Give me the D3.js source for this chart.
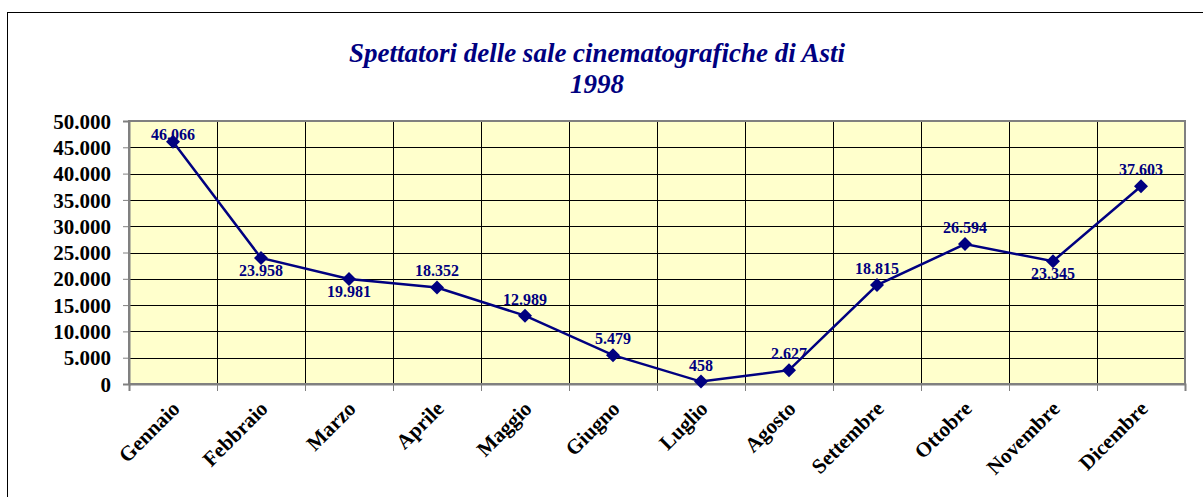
<!DOCTYPE html>
<meta charset="utf-8">
<script src="https://d3js.org/d3.v7.min.js"></script>
<style>
body { margin: 0; background: #fff; }
.grid line { stroke: #000; stroke-width: 1; }
.axis text { font-family: "Liberation Serif", "Times New Roman", serif; font-weight: bold; fill: #000; }
.axis path, .axis line { stroke: #808080; }
.line { fill: none; stroke: #000080; stroke-width: 2.5; }
.dot { fill: #000080; }
.lbl { font-family: "Liberation Serif", serif; font-weight: bold; font-size: 16px; fill: #000080; text-anchor: middle; }
.title { font-family: "Liberation Serif", serif; font-style: italic; font-weight: bold; font-size: 27px; fill: #000080; text-anchor: middle; }
</style>
<body>
</body>
<script>
var mesi = ["Gennaio","Febbraio","Marzo","Aprile","Maggio","Giugno","Luglio","Agosto","Settembre","Ottobre","Novembre","Dicembre"];
var spettatori = [46066, 23958, 19981, 18352, 12989, 5479, 458, 2627, 18815, 26594, 23345, 37603];
var labelPos = ["above","below","below","above","above","above","above","above","above","above","below","above"];
var yTicks = [0,5000,10000,15000,20000,25000,30000,35000,40000,45000,50000];

var W = 1203, H = 497;
var margin = {top: 121, left: 129, right: 18, bottom: 113};
var width = W - margin.left - margin.right,
    height = H - margin.top - margin.bottom;

var fmt = function(v){ return d3.format(",")(v).replace(/,/g, "."); };

var svg = d3.select("body").append("svg")
    .attr("width", W)
    .attr("height", H);

// outer chart border
svg.append("rect")
    .attr("x", 7.5).attr("y", 12.5)
    .attr("width", W + 10).attr("height", H + 10)
    .attr("fill", "#fff").attr("stroke", "#000").attr("stroke-width", 1);

svg.append("text").attr("class", "title")
    .attr("x", 597).attr("y", 62)
    .text("Spettatori delle sale cinematografiche di Asti");
svg.append("text").attr("class", "title")
    .attr("x", 597).attr("y", 93)
    .text("1998");

var g = svg.append("g")
    .attr("transform", "translate(" + margin.left + "," + margin.top + ")");

var xBand = d3.scaleBand().domain(mesi).range([0, width]);
var yScale = d3.scaleLinear().domain([0, 50000]).range([height, 0]);

g.append("rect")
    .attr("width", width).attr("height", height)
    .attr("fill", "#FFFFCC");

// horizontal gridlines
g.append("g").attr("class", "grid")
  .selectAll("line").data(yTicks.slice(1, -1))
  .enter().append("line")
    .attr("x1", 0).attr("x2", width)
    .attr("y1", function(d){ return Math.round(yScale(d)) + 0.5; })
    .attr("y2", function(d){ return Math.round(yScale(d)) + 0.5; });

// vertical gridlines between categories
g.append("g").attr("class", "grid")
  .selectAll("line").data(mesi.slice(1))
  .enter().append("line")
    .attr("x1", function(d){ return Math.round(xBand(d)) + 0.5; })
    .attr("x2", function(d){ return Math.round(xBand(d)) + 0.5; })
    .attr("y1", 0).attr("y2", height);

// plot frame
g.append("rect")
    .attr("width", width).attr("height", height)
    .attr("fill", "none").attr("stroke", "#808080").attr("stroke-width", 2);

var yAxis = g.append("g").attr("class", "axis")
    .call(d3.axisLeft(yScale).tickValues(yTicks).tickSize(6).tickPadding(12).tickFormat(fmt));
yAxis.attr("font-family", null);
yAxis.select(".domain").attr("stroke-width", 2);
yAxis.selectAll("text").attr("font-size", "21px").attr("dy", "0.34em");

// x axis: ticks at category boundaries
var xEdge = d3.scaleLinear().domain([0, 12]).range([0, width]);
var xAxis = g.append("g").attr("class", "axis")
    .attr("transform", "translate(0," + height + ")")
    .call(d3.axisBottom(xEdge).ticks(12).tickSize(7).tickFormat(""));
xAxis.select(".domain").attr("stroke-width", 2);
xAxis.selectAll("line").attr("stroke", "#000");

g.append("g").attr("class", "axis")
  .selectAll("text").data(mesi)
  .enter().append("text")
    .attr("font-size", "21px")
    .attr("text-anchor", "end")
    .attr("transform", function(d){
      return "translate(" + (xBand(d) + xBand.bandwidth() / 2 + 8) + "," + (height + 26) + ") rotate(-45)";
    })
    .text(function(d){ return d; });

var pts = mesi.map(function(m, i){ return {m: m, v: spettatori[i], pos: labelPos[i]}; });
var cx = function(d){ return xBand(d.m) + xBand.bandwidth() / 2; };

g.append("path")
    .datum(pts)
    .attr("class", "line")
    .attr("d", d3.line().x(cx).y(function(d){ return yScale(d.v); }));

g.selectAll(".dot").data(pts)
  .enter().append("path")
    .attr("class", "dot")
    .attr("d", "M0,-7L7,0L0,7L-7,0Z")
    .attr("transform", function(d){ return "translate(" + cx(d) + "," + yScale(d.v) + ")"; });

g.selectAll(".lbl").data(pts)
  .enter().append("text")
    .attr("class", "lbl")
    .attr("x", cx)
    .attr("y", function(d){
      var y = yScale(d.v);
      if (d.pos == "below") return y + 18;
      return Math.max(y - 11, 19);
    })
    .text(function(d){ return fmt(d.v); });
</script>
